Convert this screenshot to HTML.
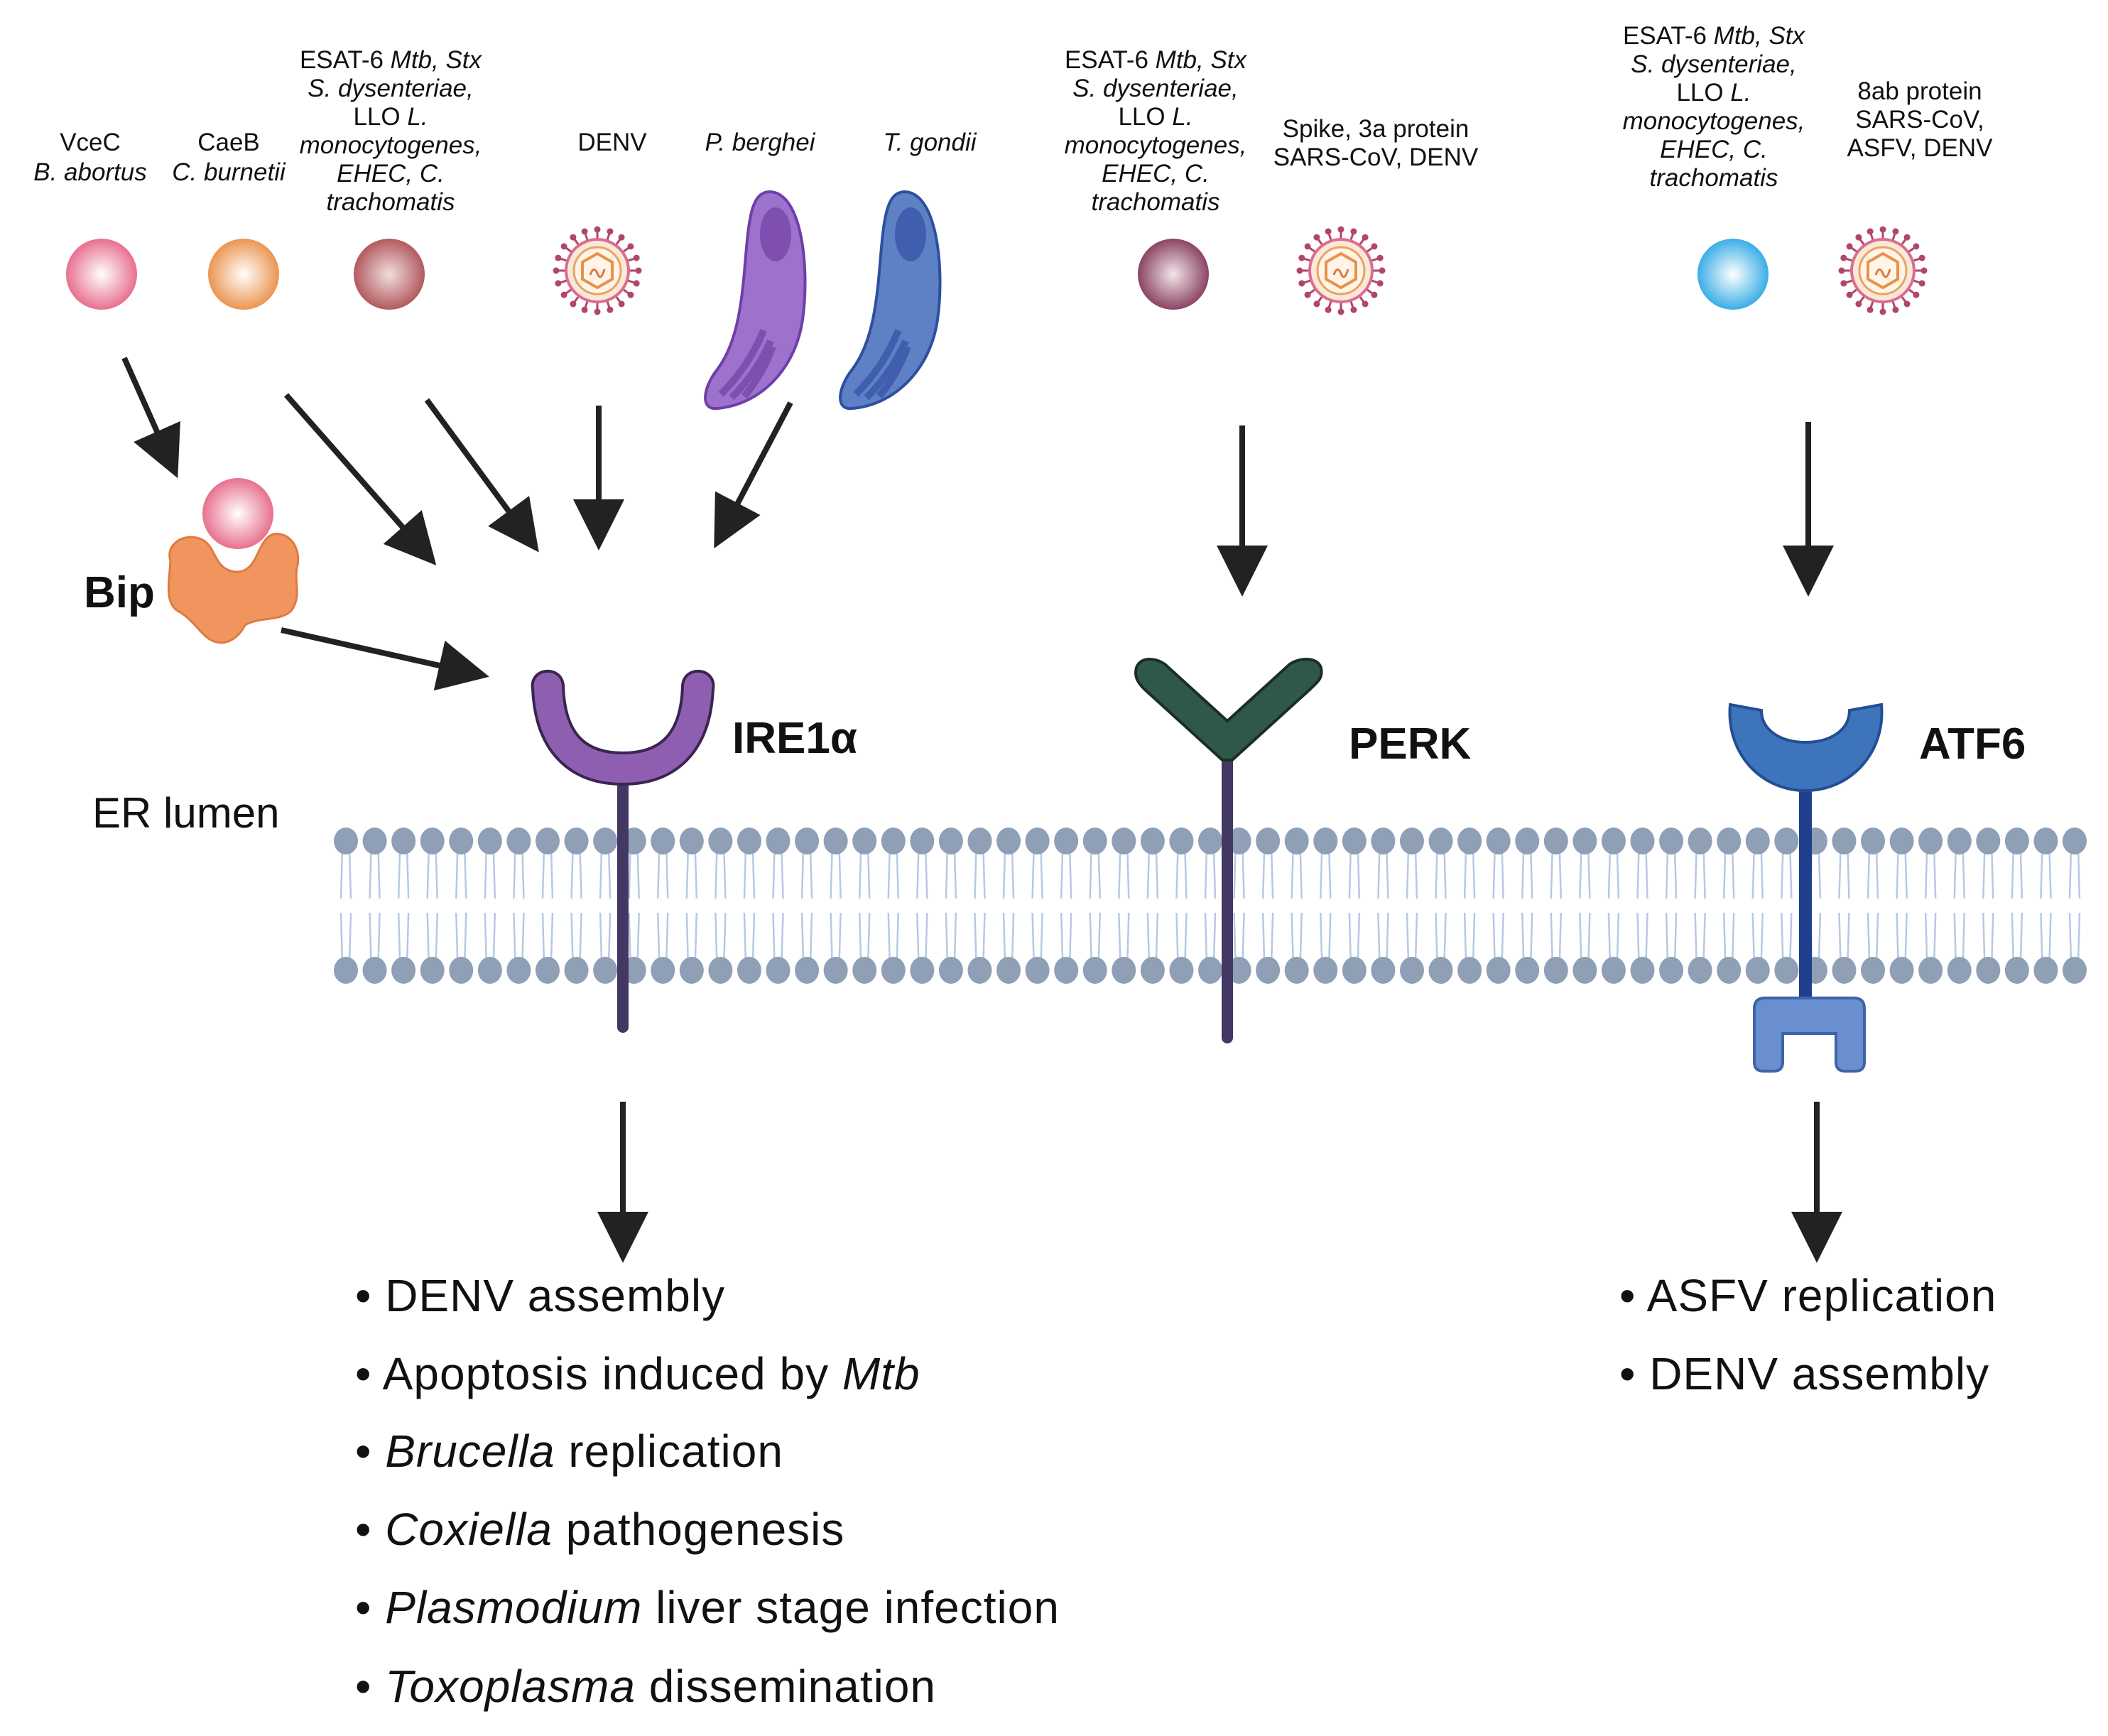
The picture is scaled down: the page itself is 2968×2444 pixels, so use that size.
<!DOCTYPE html>
<html><head><meta charset="utf-8"><style>
html,body{margin:0;padding:0;background:#fff;}
svg{display:block;}
text{font-family:"Liberation Sans",sans-serif;fill:#111;}
.s{font-size:35px;}
.b{font-size:64px;letter-spacing:1px;}
.h{font-size:62px;font-weight:bold;}
</style></head><body>
<svg id="g" width="2968" height="2444" viewBox="0 0 2968 2444" xmlns="http://www.w3.org/2000/svg">
<defs>
<radialGradient id="gp" cx="50%" cy="50%" r="50%"><stop offset="0" stop-color="#fff"/><stop offset="1" stop-color="#e8708f"/></radialGradient>
<radialGradient id="go" cx="50%" cy="50%" r="50%"><stop offset="0" stop-color="#fff"/><stop offset="1" stop-color="#ec9550"/></radialGradient>
<radialGradient id="gr" cx="50%" cy="50%" r="50%"><stop offset="0" stop-color="#f2dede"/><stop offset="1" stop-color="#b25a5e"/></radialGradient>
<radialGradient id="gm" cx="50%" cy="50%" r="50%"><stop offset="0" stop-color="#f2e6ea"/><stop offset="1" stop-color="#8b4463"/></radialGradient>
<radialGradient id="gb" cx="50%" cy="50%" r="50%"><stop offset="0" stop-color="#fff"/><stop offset="1" stop-color="#3aaee6"/></radialGradient>
<marker id="ah" markerWidth="9" markerHeight="9" refX="8" refY="4.5" orient="auto" markerUnits="strokeWidth"><path d="M0,0 L9,4.5 L0,9 Z" fill="#222"/></marker>
<g id="vir">
<g id="sp" stroke="#b0476a" stroke-width="3"></g>
<circle r="44" fill="#fbe8d8" stroke="#d96e8e" stroke-width="4"/>
<circle r="33" fill="#fff4e6" stroke="#e6a466" stroke-width="3"/>
<polygon points="0,-24 21,-12 21,12 0,24 -21,12 -21,-12" fill="none" stroke="#e6924a" stroke-width="4"/>
<path d="M-10,6 q5,-14 10,-2 q5,12 10,-6" fill="none" stroke="#d97a4a" stroke-width="3"/>
</g>
</defs>

<g id="mem"></g>

<g class="s" text-anchor="middle">
<text x="127" y="212">VceC</text>
<text x="127" y="254"><tspan font-style="italic">B. abortus</tspan></text>
<text x="322" y="212">CaeB</text>
<text x="322" y="254" font-style="italic">C. burnetii</text>
<text x="550" y="96">ESAT-6 <tspan font-style="italic">Mtb, Stx</tspan></text>
<text x="550" y="136" font-style="italic">S. dysenteriae,</text>
<text x="550" y="176">LLO <tspan font-style="italic">L.</tspan></text>
<text x="550" y="216" font-style="italic">monocytogenes,</text>
<text x="550" y="256" font-style="italic">EHEC, C.</text>
<text x="550" y="296" font-style="italic">trachomatis</text>
<text x="862" y="212">DENV</text>
<text x="1070" y="212" font-style="italic">P. berghei</text>
<text x="1309" y="212" font-style="italic">T. gondii</text>

<text x="1627" y="96">ESAT-6 <tspan font-style="italic">Mtb, Stx</tspan></text>
<text x="1627" y="136" font-style="italic">S. dysenteriae,</text>
<text x="1627" y="176">LLO <tspan font-style="italic">L.</tspan></text>
<text x="1627" y="216" font-style="italic">monocytogenes,</text>
<text x="1627" y="256" font-style="italic">EHEC, C.</text>
<text x="1627" y="296" font-style="italic">trachomatis</text>
<text x="1937" y="193">Spike, 3a protein</text>
<text x="1937" y="233">SARS-CoV, DENV</text>

<text x="2413" y="62">ESAT-6 <tspan font-style="italic">Mtb, Stx</tspan></text>
<text x="2413" y="102" font-style="italic">S. dysenteriae,</text>
<text x="2413" y="142">LLO <tspan font-style="italic">L.</tspan></text>
<text x="2413" y="182" font-style="italic">monocytogenes,</text>
<text x="2413" y="222" font-style="italic">EHEC, C.</text>
<text x="2413" y="262" font-style="italic">trachomatis</text>
<text x="2703" y="140">8ab protein</text>
<text x="2703" y="180">SARS-CoV,</text>
<text x="2703" y="220">ASFV, DENV</text>
</g>

<circle cx="143" cy="386" r="50" fill="url(#gp)"/>
<circle cx="343" cy="386" r="50" fill="url(#go)"/>
<circle cx="548" cy="386" r="50" fill="url(#gr)"/>
<circle cx="1652" cy="386" r="50" fill="url(#gm)"/>
<circle cx="2440" cy="386" r="50" fill="url(#gb)"/>
<use href="#vir" x="841" y="381"/>
<use href="#vir" x="1888" y="381"/>
<use href="#vir" x="2651" y="381"/>

<g>
<path d="M1082,270 C1130,268 1140,380 1130,450 C1120,520 1070,570 1010,575 C985,578 990,545 1010,520 C1040,480 1045,420 1050,360 C1055,300 1060,272 1082,270 Z" fill="#9c72cc" stroke="#6f3fa8" stroke-width="4"/>
<ellipse cx="1092" cy="330" rx="22" ry="38" fill="#7e4fb0"/>
<path d="M1015,555 q40,-40 60,-90 M1030,560 q35,-35 55,-80 M1048,558 q25,-30 40,-70" stroke="#7e4fb0" stroke-width="10" fill="none"/>
</g>
<g>
<path d="M1272,270 C1320,268 1330,380 1320,450 C1310,520 1260,570 1200,575 C1175,578 1180,545 1200,520 C1230,480 1235,420 1240,360 C1245,300 1250,272 1272,270 Z" fill="#5e80c4" stroke="#2e4fa0" stroke-width="4"/>
<ellipse cx="1282" cy="330" rx="22" ry="38" fill="#3f5fae"/>
<path d="M1205,555 q40,-40 60,-90 M1220,560 q35,-35 55,-80 M1238,558 q25,-30 40,-70" stroke="#3f5fae" stroke-width="10" fill="none"/>
</g>

<path d="M240,790 C232,765 262,748 285,760 C305,770 300,800 330,805 C365,808 360,760 385,752 C410,748 425,775 418,800 C414,820 425,840 410,860 C395,875 365,868 345,880 C335,900 315,912 295,900 C280,890 270,870 250,860 C232,848 238,820 240,790 Z" fill="#f0955e" stroke="#e07a40" stroke-width="3"/>
<circle cx="335" cy="723" r="50" fill="url(#gp)"/>
<text x="118" y="855" class="h">Bip</text>

<g stroke="#222" stroke-width="8" marker-end="url(#ah)" fill="none">
<line x1="175" y1="504" x2="247" y2="666"/>
<line x1="403" y1="556" x2="609" y2="790"/>
<line x1="601" y1="563" x2="754" y2="771"/>
<line x1="843" y1="571" x2="843" y2="767"/>
<line x1="1113" y1="567" x2="1009" y2="765"/>
<line x1="396" y1="887" x2="681" y2="951"/>
<line x1="1749" y1="599" x2="1749" y2="832"/>
<line x1="2546" y1="594" x2="2546" y2="832"/>
<line x1="877" y1="1551" x2="877" y2="1770"/>
<line x1="2558" y1="1551" x2="2558" y2="1770"/>
</g>

<line id="ires" x1="877" y1="1100" x2="877" y2="1446" stroke="#433763" stroke-width="16" stroke-linecap="round"/>
<path d="M750,970 C745,940 790,935 793,965 C795,1040 830,1060 877,1060 C924,1060 959,1040 961,965 C964,935 1009,940 1004,970 C1000,1060 950,1104 877,1104 C804,1104 754,1060 750,970 Z" fill="#8e5fb0" stroke="#3b2450" stroke-width="4"/>
<text x="1031" y="1060" class="h">IRE1α</text>

<line x1="1728" y1="1060" x2="1728" y2="1461" stroke="#433763" stroke-width="16" stroke-linecap="round"/>
<path d="M1600,940 C1605,925 1625,925 1640,935 L1728,1015 L1816,935 C1831,925 1855,925 1860,940 C1863,955 1855,960 1845,970 L1735,1070 L1721,1070 L1611,970 C1601,960 1597,952 1600,940 Z" fill="#2f5848" stroke="#1b2e26" stroke-width="4"/>
<text x="1899" y="1068" class="h">PERK</text>

<line x1="2542" y1="1110" x2="2542" y2="1410" stroke="#1f3f8c" stroke-width="18"/>
<path d="M2436,992 L2480,1000 C2480,1030 2510,1045 2542,1045 C2574,1045 2604,1030 2604,1000 L2649,992 C2655,1060 2605,1113 2542,1113 C2479,1113 2430,1060 2436,992 Z" fill="#3e74bb" stroke="#234e94" stroke-width="4"/>
<path d="M2470,1420 Q2470,1405 2485,1405 L2610,1405 Q2625,1405 2625,1420 L2625,1495 Q2625,1508 2612,1508 L2598,1508 Q2585,1508 2585,1495 L2585,1455 L2510,1455 L2510,1495 Q2510,1508 2497,1508 L2483,1508 Q2470,1508 2470,1495 Z" fill="#6a8fd0" stroke="#3f63a8" stroke-width="4"/>
<text x="2702" y="1068" class="h">ATF6</text>

<text x="130" y="1165" style="font-size:60px">ER lumen</text>

<g class="b">
<text x="500" y="1846">• DENV assembly</text>
<text x="500" y="1956">• Apoptosis induced by <tspan font-style="italic">Mtb</tspan></text>
<text x="500" y="2065">• <tspan font-style="italic">Brucella</tspan> replication</text>
<text x="500" y="2175">• <tspan font-style="italic">Coxiella</tspan> pathogenesis</text>
<text x="500" y="2285">• <tspan font-style="italic">Plasmodium</tspan> liver stage infection</text>
<text x="500" y="2396">• <tspan font-style="italic">Toxoplasma</tspan>  dissemination</text>
<text x="2280" y="1846">• ASFV replication</text>
<text x="2280" y="1956">• DENV assembly</text>
</g>
</svg>
<script>
var NS="http://www.w3.org/2000/svg";
var m=document.getElementById("mem");
function el(t,a){var e=document.createElementNS(NS,t);for(var k in a)e.setAttribute(k,a[k]);m.appendChild(e);return e;}
var n=61,x0=487,dx=(2921-487)/(n-1);
for(var i=0;i<n;i++){var x=x0+i*dx;
 var d="M"+(x-5)+",1195 L"+(x-7)+",1265 M"+(x+5)+",1195 L"+(x+7)+",1265 M"+(x-7)+",1285 L"+(x-5)+",1355 M"+(x+7)+",1285 L"+(x+5)+",1355";
 el("path",{d:d,stroke:"#b7c8e4","stroke-width":"2.5",fill:"none"});
}
for(var i=0;i<n;i++){var x=x0+i*dx;
 el("ellipse",{cx:x,cy:1184,rx:17,ry:19,fill:"#8e9fb6"});
 el("ellipse",{cx:x,cy:1366,rx:17,ry:19,fill:"#8e9fb6"});
}
var sp=document.getElementById("sp");
for(var k=0;k<20;k++){var a=k*Math.PI*2/20,c=Math.cos(a),s=Math.sin(a);
 var l=document.createElementNS(NS,"line");l.setAttribute("x1",44*c);l.setAttribute("y1",44*s);l.setAttribute("x2",58*c);l.setAttribute("y2",58*s);sp.appendChild(l);
 var d=document.createElementNS(NS,"circle");d.setAttribute("cx",58*c);d.setAttribute("cy",58*s);d.setAttribute("r",3);d.setAttribute("fill","#b0476a");sp.appendChild(d);}
</script>
</body></html>
